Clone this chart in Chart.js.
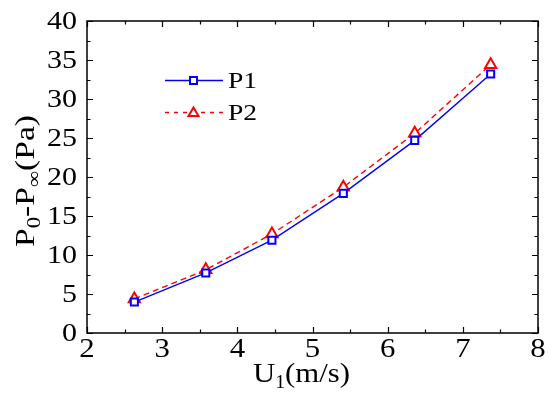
<!DOCTYPE html>
<html>
<head>
<meta charset="utf-8">
<script src="https://cdn.jsdelivr.net/npm/chart.js@4"></script>
<style>
  html, body { margin: 0; padding: 0; background: #fff; }
  #wrap { width: 550px; height: 397px; }
</style>
</head>
<body>
<div id="wrap"><canvas id="grafica"></canvas></div>
<script>
// velocidades U1 (m/s) y presiones P0-Pinf (Pa)
const velocidades = [2.63, 3.58, 4.46, 5.41, 6.36, 7.37];
const presionP1 = [3.97, 7.7, 11.9, 17.9, 24.7, 33.2];
const presionP2 = [4.36, 8.1, 12.7, 18.7, 25.6, 34.4];
const ticksX = [2, 3, 4, 5, 6, 7, 8];
const ticksY = [0, 5, 10, 15, 20, 25, 30, 35, 40];

const fuente = "'Liberation Serif', serif";

function puntos(ys) {
  return velocidades.map((x, i) => ({ x: x, y: ys[i] }));
}

// texto estirado en horizontal (la figura original esta algo ensanchada)
function texto(ctx, t, x, y, size, estirar, align) {
  ctx.save();
  ctx.font = size + "px " + fuente;
  const w = ctx.measureText(t).width * estirar;
  let x0 = x;
  if (align === "right") x0 = x - w;
  if (align === "center") x0 = x - w / 2;
  ctx.translate(x0, y);
  ctx.scale(estirar, 1);
  ctx.textAlign = "left";
  ctx.fillText(t, 0, 0);
  ctx.restore();
  return w;
}

// partes [texto, esSubindice] escaladas hasta un largo dado
function conSubindices(ctx, partes, size, subSize, largo) {
  let natural = 0;
  partes.forEach(([t, sub]) => {
    ctx.font = (sub ? subSize : size) + "px " + fuente;
    natural += ctx.measureText(t).width;
  });
  ctx.scale(largo / natural, 1);
  let x = 0;
  partes.forEach(([t, sub]) => {
    ctx.font = (sub ? subSize : size) + "px " + fuente;
    ctx.fillText(t, x, sub ? 6 : 0);
    x += ctx.measureText(t).width;
  });
}

const extras = {
  id: "extras",
  afterDraw(chart) {
    const ctx = chart.ctx;
    const a = chart.chartArea;
    const sx = chart.scales.x, sy = chart.scales.y;
    ctx.save();
    ctx.strokeStyle = "#000";
    ctx.lineWidth = 1.5;
    ctx.strokeRect(a.left, a.top, a.right - a.left, a.bottom - a.top);

    // ticks hacia dentro en los cuatro lados
    ctx.lineWidth = 1.2;
    ctx.beginPath();
    for (let v = 2; v <= 8.001; v += 0.5) {
      const px = Math.round(sx.getPixelForValue(v)) + 0.5;
      const len = Number.isInteger(v) ? 6 : 3.5;
      ctx.moveTo(px, a.bottom); ctx.lineTo(px, a.bottom - len);
      ctx.moveTo(px, a.top); ctx.lineTo(px, a.top + len);
    }
    for (let v = 0; v <= 40.001; v += 2.5) {
      const py = Math.round(sy.getPixelForValue(v)) + 0.5;
      const len = v % 5 === 0 ? 6 : 3.5;
      ctx.moveTo(a.left, py); ctx.lineTo(a.left + len, py);
      ctx.moveTo(a.right, py); ctx.lineTo(a.right - len, py);
    }
    ctx.stroke();

    // etiquetas de los ticks
    ctx.fillStyle = "#000";
    ctx.textBaseline = "alphabetic";
    ticksX.forEach((v) => {
      texto(ctx, String(v), sx.getPixelForValue(v), a.bottom + 24, 28, 1.1, "center");
    });
    ticksY.forEach((v) => {
      texto(ctx, String(v), a.left - 10, sy.getPixelForValue(v) + 7.5, 25, 1.2, "right");
    });

    // titulo eje x: U1(m/s)
    ctx.save();
    ctx.translate(253, 382);
    conSubindices(ctx, [["U", 0], ["1", 1], ["(m/s)", 0]], 28, 18, 97);
    ctx.restore();

    // titulo eje y: P0-P∞(Pa)
    ctx.save();
    ctx.translate(34, 247);
    ctx.rotate(-Math.PI / 2);
    conSubindices(ctx, [["P", 0], ["0", 1], ["-P", 0], ["\u221e", 1], ["(Pa)", 0]], 28, 19, 132);
    ctx.restore();

    // leyenda
    const filas = [
      { ds: chart.data.datasets[0], y: 80.5 },
      { ds: chart.data.datasets[1], y: 112.5 },
    ];
    filas.forEach((f) => {
      ctx.strokeStyle = f.ds.borderColor;
      ctx.lineWidth = 1.4;
      ctx.setLineDash(f.ds.borderDash ? [4, 5] : []);
      ctx.beginPath();
      ctx.moveTo(165, f.y); ctx.lineTo(223, f.y);
      ctx.stroke();
      ctx.setLineDash([]);
      ctx.lineWidth = 2;
      if (f.ds.pointStyle === "rect") {
        ctx.fillStyle = "#fff";
        ctx.fillRect(190, f.y - 3.5, 7, 7);
        ctx.strokeRect(190, f.y - 3.5, 7, 7);
      } else {
        ctx.beginPath();
        ctx.moveTo(193.5, f.y - 5);
        ctx.lineTo(198.5, f.y + 3.5);
        ctx.lineTo(188.5, f.y + 3.5);
        ctx.closePath();
        ctx.fillStyle = "#fff";
        ctx.fill();
        ctx.stroke();
      }
      ctx.fillStyle = "#000";
      texto(ctx, f.ds.label, 228, f.y + 7.5, 23, 1.2, "left");
    });
    ctx.restore();
  },
};

function crear() {
  new Chart(document.getElementById("grafica"), {
    type: "line",
    data: {
      datasets: [
        {
          label: "P1",
          data: puntos(presionP1),
          borderColor: "#0000ff",
          backgroundColor: "#ffffff",
          borderWidth: 1.4,
          pointStyle: "rect",
          pointRadius: 5,
          pointBorderWidth: 2,
          tension: 0,
        },
        {
          label: "P2",
          data: puntos(presionP2),
          borderColor: "#ff0000",
          backgroundColor: "#ffffff",
          borderWidth: 1.4,
          borderDash: [6, 4],
          pointStyle: "triangle",
          pointRadius: 6.5,
          pointBorderWidth: 2,
          tension: 0,
        },
      ],
    },
    options: {
      responsive: true,
      maintainAspectRatio: false,
      animation: false,
      layout: { padding: { top: 21, right: 12, left: 0, bottom: 0 } },
      plugins: { legend: { display: false }, tooltip: { enabled: false } },
      scales: {
        x: {
          type: "linear",
          min: 2,
          max: 8,
          afterFit: (s) => { s.height = 64; },
          grid: { display: false, drawTicks: false },
          border: { display: false },
          ticks: { display: false },
        },
        y: {
          min: 0,
          max: 40,
          afterFit: (s) => { s.width = 87; },
          grid: { display: false, drawTicks: false },
          border: { display: false },
          ticks: { display: false },
        },
      },
    },
    plugins: [extras],
  });
}

if (document.fonts && document.fonts.load) {
  Promise.all([
    document.fonts.load("28px 'Liberation Serif'"),
    document.fonts.load("18px 'Liberation Serif'"),
  ]).then(crear, crear);
} else {
  crear();
}
</script>
</body>
</html>
